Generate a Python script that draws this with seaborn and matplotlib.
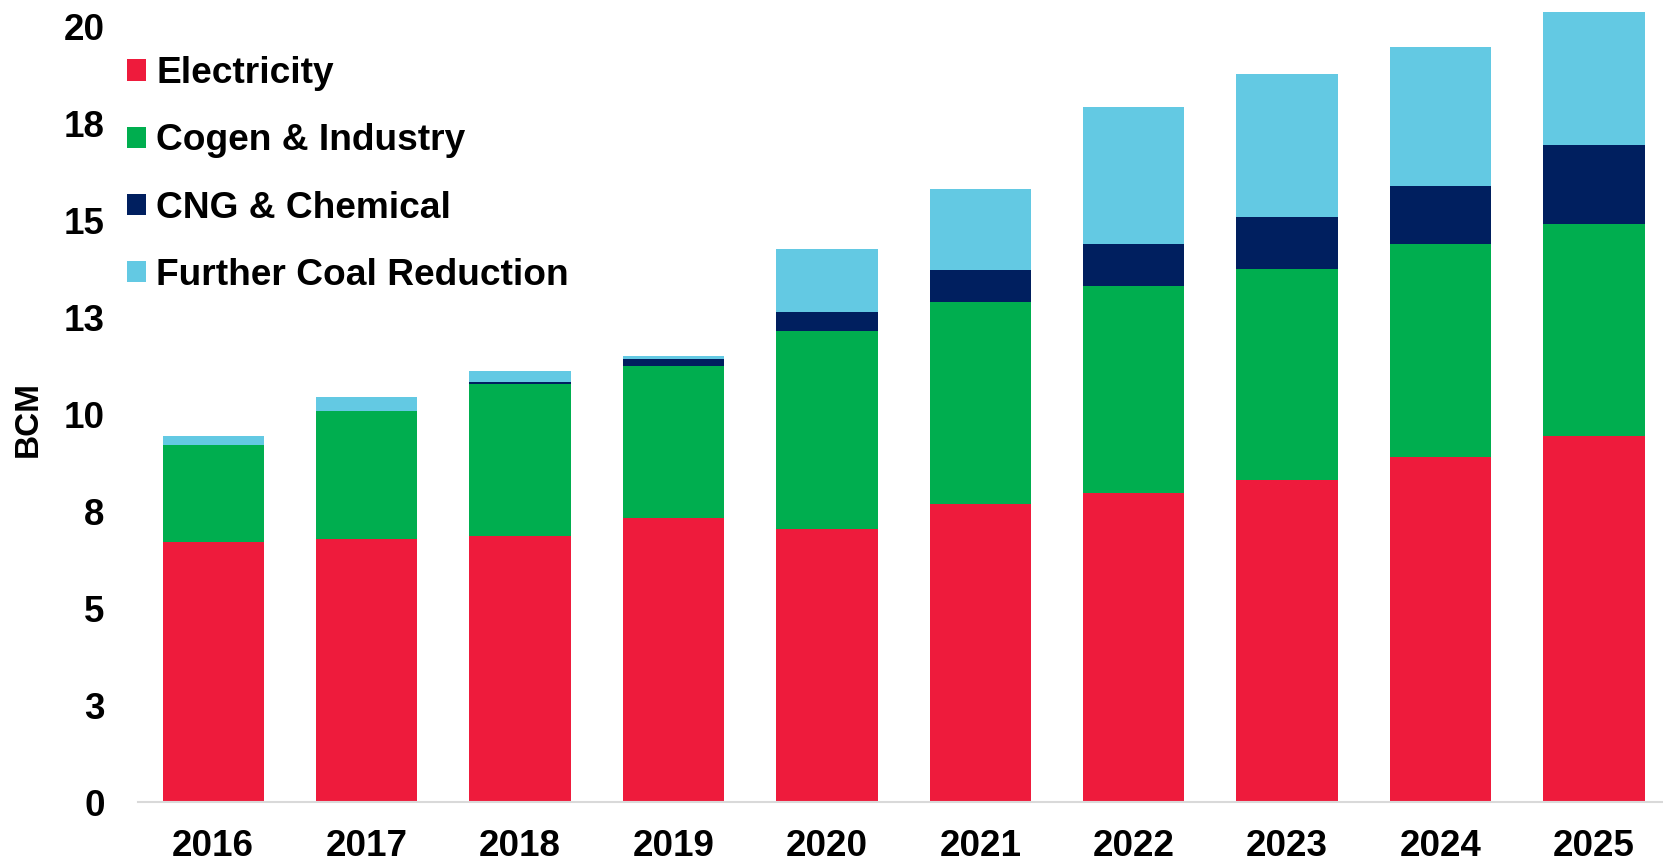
import matplotlib
matplotlib.use("Agg")
import matplotlib.pyplot as plt
from matplotlib.patches import Patch
import numpy as np
import seaborn as sns

years = ["2016", "2017", "2018", "2019", "2020", "2021", "2022", "2023", "2024", "2025"]
electricity = [6.72, 6.80, 6.86, 7.32, 7.05, 7.70, 7.98, 8.31, 8.91, 9.45]
cogen_industry = [2.49, 3.28, 3.93, 3.94, 5.11, 5.20, 5.33, 5.43, 5.49, 5.47]
cng_chemical = [0.00, 0.00, 0.06, 0.16, 0.49, 0.82, 1.09, 1.34, 1.50, 2.02]
further_coal = [0.24, 0.38, 0.27, 0.08, 1.61, 2.10, 3.52, 3.69, 3.58, 3.44]

series_names = ["Electricity", "Cogen & Industry", "CNG & Chemical", "Further Coal Reduction"]
colors = ["#EE1B3C", "#00AE4F", "#001F5F", "#63C9E3"]
ytick_values = [0, 2.5, 5, 7.5, 10, 12.5, 15, 17.5, 20]
ytick_labels = ["0", "3", "5", "8", "10", "13", "15", "18", "20"]

sns.set_theme(style="white")
plt.rcParams["font.family"] = ["Liberation Sans", "DejaVu Sans"]
plt.rcParams["font.weight"] = "bold"
plt.rcParams["text.color"] = "black"
plt.rcParams["xtick.color"] = "black"
plt.rcParams["ytick.color"] = "black"
plt.rcParams["axes.labelcolor"] = "black"

fig = plt.figure(figsize=(16.63, 8.65), dpi=100)
ax = fig.add_axes([0.083, 0.0723, 0.917, 0.9149])

layers = [electricity, cogen_industry, cng_chemical, further_coal]
cum = np.cumsum(np.array(layers), axis=0)
for i in range(len(layers) - 1, -1, -1):
    sns.barplot(x=years, y=cum[i], color=colors[i], saturation=1, width=0.66,
                linewidth=0, ax=ax)

ax.set_xlim(-0.49, 9.45)
ax.set_ylim(0, 20.4)
ax.set_yticks(ytick_values)
ax.set_yticklabels(ytick_labels)
ax.tick_params(axis="y", length=0, pad=24, labelsize=26.5, labelcolor="black")
ax.tick_params(axis="x", length=0, pad=19, labelsize=26.5, labelcolor="black")
for lab in ax.get_xticklabels() + ax.get_yticklabels():
    lab.set_fontweight("bold")

for s in ["top", "right", "left"]:
    ax.spines[s].set_visible(False)
ax.spines["bottom"].set_color("#D9D9D9")
ax.spines["bottom"].set_linewidth(1.5)

ax.set_xlabel("")
ax.set_ylabel("BCM", fontsize=24, fontweight="bold", color="black")
ax.yaxis.set_label_coords(-0.062, 0.485)

handles = [Patch(facecolor=c, edgecolor="none") for c in colors]
leg = fig.legend(handles, series_names, loc="upper left",
                 bbox_to_anchor=(0.0764, 0.935), frameon=False,
                 prop={"size": 26.7, "weight": "bold"},
                 handlelength=0.5, handleheight=0.5, handletextpad=0.29,
                 labelspacing=0.87, borderaxespad=0, borderpad=0)
for t in leg.get_texts():
    t.set_color("black")

fig.savefig("out.png", dpi=100)
